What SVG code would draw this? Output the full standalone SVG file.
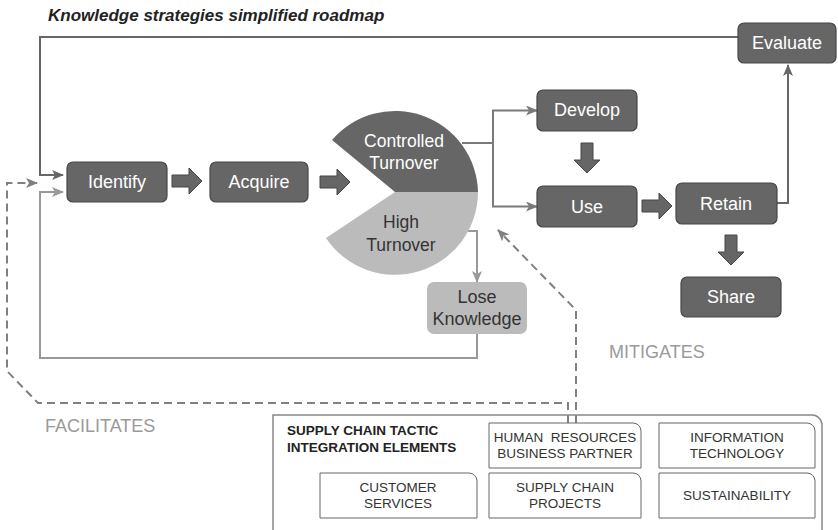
<svg xmlns="http://www.w3.org/2000/svg" width="838" height="530" viewBox="0 0 838 530">
<defs>
<style>
.t{font-family:"Liberation Sans",Arial,sans-serif}
.node rect{fill:#666;stroke:#464646;stroke-width:1.2}
.node text{fill:#fff;font-size:18px;text-anchor:middle}
.lt text{fill:#333;font-size:18px;text-anchor:middle}
.blk{fill:#666;stroke:#464646;stroke-width:1}
.ln{fill:none;stroke-width:2}
.dash{fill:none;stroke:#808080;stroke-width:2;stroke-dasharray:8 5}
.ib path{fill:#fff;stroke:#666;stroke-width:1}
.ib text{fill:#333;font-size:13.5px;text-anchor:middle}
.lbl{fill:#9a9a9a;font-size:18px}
</style>
<marker id="mD" viewBox="0 0 12 10" refX="11" refY="5" markerWidth="12" markerHeight="10" markerUnits="userSpaceOnUse" orient="auto"><path d="M0,0 L12,5 L0,10 L3,5 Z" fill="#666"/></marker>
<marker id="mM" viewBox="0 0 12 10" refX="11" refY="5" markerWidth="12" markerHeight="10" markerUnits="userSpaceOnUse" orient="auto"><path d="M0,0 L12,5 L0,10 L3,5 Z" fill="#7a7a7a"/></marker>
<marker id="mL" viewBox="0 0 12 10" refX="11" refY="5" markerWidth="12" markerHeight="10" markerUnits="userSpaceOnUse" orient="auto"><path d="M0,0 L12,5 L0,10 L3,5 Z" fill="#999"/></marker>
<marker id="mX" viewBox="0 0 12 10" refX="11" refY="5" markerWidth="12" markerHeight="10" markerUnits="userSpaceOnUse" orient="auto"><path d="M0,0 L12,5 L0,10 L3,5 Z" fill="#808080"/></marker>
</defs>
<rect width="838" height="530" fill="#fff"/>
<text class="t" x="48" y="21" font-size="17" font-weight="bold" font-style="italic" fill="#222">Knowledge strategies simplified roadmap</text>

<g id="connectors">
<path class="ln" stroke="#666" d="M738,37 H40 V175 H63" marker-end="url(#mD)"/>
<path class="ln" stroke="#999" d="M477,334 V358 H40 V192 H63" marker-end="url(#mL)"/>
<path class="ln" stroke="#7a7a7a" d="M462,143 H493 V110.5 H537" marker-end="url(#mM)"/>
<path class="ln" stroke="#7a7a7a" d="M493,143 V206.5 H537" marker-end="url(#mM)"/>
<path class="ln" stroke="#999" d="M468,231 H477 V282" marker-end="url(#mL)"/>
<path class="ln" stroke="#666" d="M777,203 H788 V65" marker-end="url(#mD)"/>
<path class="dash" d="M568,423 V403 H38 L7,371 V183 H37" marker-end="url(#mX)"/>
<path class="dash" d="M576,423 V310 L498,230" marker-end="url(#mX)"/>
<path class="blk" d="M172,175 H189 V168 L202,181 L189,194 V187 H172 Z"/>
<path class="blk" d="M320,176 H337 V169 L350,182 L337,195 V188 H320 Z"/>
<path class="blk" d="M642,200 H659 V193 L672,206 L659,219 V212 H642 Z"/>
<path class="blk" d="M581,143 V160 H574 L587,173 L600,160 H593 V143 Z"/>
<path class="blk" d="M725,235 V252 H718 L731,265 L744,252 H737 V235 Z"/>
</g>

<g id="identify" class="node t"><rect x="67" y="162" width="100" height="40" rx="6"/><text x="117" y="188">Identify</text></g>
<g id="acquire" class="node t"><rect x="210" y="162" width="98" height="40" rx="6"/><text x="259" y="188">Acquire</text></g>
<g id="controlled-turnover" class="t">
<path d="M395,192 L332,140 A83,83 0 0,1 478,192 Z" fill="#666"/>
<text x="404" y="147" fill="#fff" font-size="17.5" text-anchor="middle">Controlled</text>
<text x="404" y="169" fill="#fff" font-size="17.5" text-anchor="middle">Turnover</text>
</g>
<g id="high-turnover" class="t">
<path d="M395,192 L478,192 A83,83 0 0,1 326,238 Z" fill="#bbb"/>
<text x="401" y="228" fill="#333" font-size="17.5" text-anchor="middle">High</text>
<text x="401" y="251" fill="#333" font-size="17.5" text-anchor="middle">Turnover</text>
</g>
<g id="develop" class="node t"><rect x="537" y="90" width="100" height="41" rx="6"/><text x="587" y="116">Develop</text></g>
<g id="use" class="node t"><rect x="537" y="186" width="100" height="41" rx="6"/><text x="587" y="213">Use</text></g>
<g id="retain" class="node t"><rect x="676" y="183" width="101" height="41" rx="6"/><text x="726" y="210">Retain</text></g>
<g id="share" class="node t"><rect x="681" y="277" width="100" height="40" rx="6"/><text x="731" y="303">Share</text></g>
<g id="evaluate" class="node t"><rect x="738" y="23" width="98" height="40" rx="6"/><text x="787" y="49">Evaluate</text></g>
<g id="lose-knowledge" class="lt t"><rect x="427" y="282" width="100" height="52" rx="7" fill="#bbb"/><text x="477" y="303">Lose</text><text x="477" y="325">Knowledge</text></g>

<text class="t lbl" x="45" y="432">FACILITATES</text>
<text class="t lbl" x="609" y="358">MITIGATES</text>

<g id="supply-chain" class="t">
<path d="M273,535 V415 H812 A10,10 0 0,1 822,425 V535" fill="none" stroke="#888" stroke-width="1.5"/>
<text x="287" y="435" font-size="13.5" font-weight="bold" fill="#222">SUPPLY CHAIN TACTIC</text>
<text x="287" y="452" font-size="13.5" font-weight="bold" fill="#222">INTEGRATION ELEMENTS</text>
</g>
<g id="hr" class="ib t"><path d="M489,423 H633 A8,8 0 0,1 641,431 V468 H489 Z"/><text x="565" y="442" xml:space="preserve">HUMAN  RESOURCES</text><text x="565" y="458">BUSINESS PARTNER</text></g>
<g id="it" class="ib t"><path d="M659,423 H807 A8,8 0 0,1 815,431 V468 H659 Z"/><text x="737" y="442">INFORMATION</text><text x="737" y="458">TECHNOLOGY</text></g>
<g id="customer" class="ib t"><path d="M320,473 H469 A8,8 0 0,1 477,481 V518 H320 Z"/><text x="398" y="492">CUSTOMER</text><text x="398" y="508">SERVICES</text></g>
<g id="scp" class="ib t"><path d="M489,473 H633 A8,8 0 0,1 641,481 V518 H489 Z"/><text x="565" y="492">SUPPLY CHAIN</text><text x="565" y="508">PROJECTS</text></g>
<g id="sustain" class="ib t"><path d="M659,473 H807 A8,8 0 0,1 815,481 V518 H659 Z"/><text x="737" y="500">SUSTAINABILITY</text></g>
</svg>
